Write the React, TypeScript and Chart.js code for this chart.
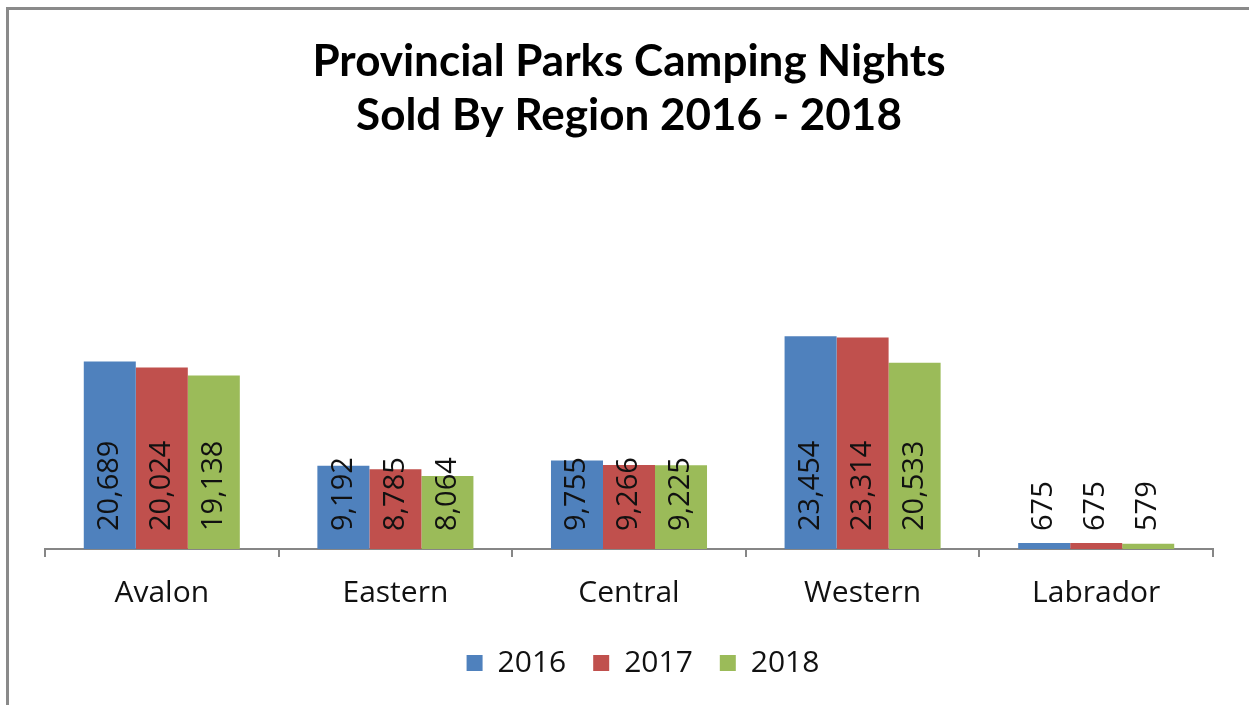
import React, { useEffect, useRef } from "react";
import { Chart, registerables } from "chart.js";

Chart.register(...registerables);

const categories = ["Avalon", "Eastern", "Central", "Western", "Labrador"];
const seriesNames = ["2016", "2017", "2018"];
const values2016 = [20689, 9192, 9755, 23454, 675];
const values2017 = [20024, 8785, 9266, 23314, 675];
const values2018 = [19138, 8064, 9225, 20533, 579];
const seriesColors = ["#4F81BD", "#C0504D", "#9BBB59"];
const titleLines = ["Provincial Parks Camping Nights", "Sold By Region 2016 - 2018"];

const labelPlugin = {
  id: "barLabels",
  afterLayout(chart: any) {
    if (chart.legend) {
      chart.legend.left += 14;
      chart.legend.right += 14;
    }
  },
  afterDatasetsDraw(chart: any) {
    const ctx = chart.ctx;
    ctx.save();
    ctx.font = "29px 'Open Sans'";
    ctx.fillStyle = "#111111";
    ctx.textAlign = "left";
    ctx.textBaseline = "middle";
    chart.data.datasets.forEach((ds: any, di: number) => {
      const meta = chart.getDatasetMeta(di);
      meta.data.forEach((el: any, i: number) => {
        const txt = Number(ds.data[i]).toLocaleString("en-US");
        ctx.save();
        ctx.translate(el.x, el.base - 18);
        ctx.rotate(-Math.PI / 2);
        ctx.fillText(txt, 0, 0);
        ctx.restore();
      });
    });
    ctx.restore();
  },
};

export default function App() {
  const ref = useRef<HTMLCanvasElement | null>(null);
  useEffect(() => {
    document.body.style.margin = "0";
    const allValues = [values2016, values2017, values2018];
    const chart = new Chart(ref.current as HTMLCanvasElement, {
      type: "bar",
      data: {
        labels: categories,
        datasets: seriesNames.map((name, i) => ({
          label: name,
          data: allValues[i],
          backgroundColor: seriesColors[i],
          borderWidth: 0,
          categoryPercentage: 0.668,
          barPercentage: 1,
        })),
      },
      options: {
        animation: false,
        responsive: false,
        maintainAspectRatio: false,
        events: [],
        layout: { padding: { left: 45, right: 36, top: 0, bottom: 17 } },
        plugins: {
          title: {
            display: true,
            text: titleLines,
            color: "#000000",
            font: { family: "Lato", size: 44, weight: "bold", lineHeight: 54 / 44 },
            padding: { top: 35, bottom: 134 },
          },
          legend: {
            display: true,
            position: "bottom",
            labels: {
              boxWidth: 16,
              boxHeight: 16,
              padding: 27,
              color: "#111111",
              font: { family: "Open Sans", size: 30 },
            },
          },
          tooltip: { enabled: false },
        },
        scales: {
          x: {
            afterFit: (scale: any) => {
              scale.height -= 8;
            },
            grid: {
              display: true,
              drawOnChartArea: false,
              drawTicks: true,
              tickLength: 8,
              color: "#868686",
              lineWidth: 2,
            },
            border: { display: true, color: "#868686", width: 2 },
            ticks: {
              color: "#111111",
              padding: 18,
              font: { family: "Open Sans", size: 30 },
            },
          },
          y: {
            display: false,
            min: 0,
            max: 30000,
          },
        },
      },
      plugins: [labelPlugin],
    });
    return () => chart.destroy();
  }, []);

  return (
    <div style={{ position: "absolute", left: 0, top: 0, width: 1249, height: 705, background: "#ffffff", overflow: "hidden" }}>
      <div
        style={{
          position: "absolute",
          left: 6,
          top: 7,
          width: 1300,
          height: 800,
          borderTop: "3px solid #8a8a8a",
          borderLeft: "3px solid #8a8a8a",
        }}
      />
      <canvas ref={ref} width={1249} height={705} style={{ position: "absolute", left: 0, top: 0 }} />
    </div>
  );
}
